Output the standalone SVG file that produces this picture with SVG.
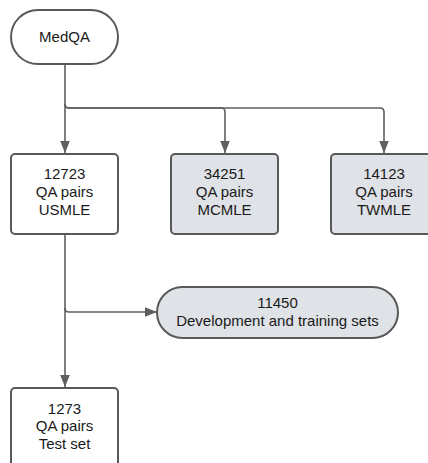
<svg xmlns="http://www.w3.org/2000/svg" width="428" height="463" viewBox="0 0 428 463">
<style>
.node{stroke:#595959;stroke-width:2}
.w{fill:#ffffff}
.g{fill:#dfe2e7}
.edge{fill:none;stroke:#5f5f5f;stroke-width:1.6}
text{font-family:"Liberation Sans",Arial,sans-serif;font-size:15px;fill:#1a1a1a;text-anchor:middle}
</style>
<defs>
<marker id="arr" markerUnits="userSpaceOnUse" markerWidth="12" markerHeight="12" viewBox="0 0 10 10" refX="10" refY="5" orient="auto">
<path d="M0,1 L10,5 L0,9 Z" fill="#5f5f5f"/>
</marker>
</defs>
<rect width="428" height="463" fill="#ffffff"/>
<g id="connectors">
<path class="edge" d="M65,64 V153" marker-end="url(#arr)"/>
<path class="edge" d="M65,104 Q65,108 69,108 H221 Q225,108 225,112 V153" marker-end="url(#arr)"/>
<path class="edge" d="M65,104 Q65,108 69,108 H380 Q384,108 384,112 V153" marker-end="url(#arr)"/>
<path class="edge" d="M65,234 V387" marker-end="url(#arr)"/>
<path class="edge" d="M65,308 Q65,312 69,312 H157" marker-end="url(#arr)"/>
</g>
<g id="medqa">
<rect class="node w" x="11" y="10" width="107" height="54" rx="27"/>
<text x="64.5" y="42">MedQA</text>
</g>
<g id="usmle">
<rect class="node w" x="11" y="154" width="107" height="80" rx="4"/>
<text x="64.5" y="178.5">12723</text>
<text x="64.5" y="196.5">QA pairs</text>
<text x="64.5" y="214.5">USMLE</text>
</g>
<g id="mcmle">
<rect class="node g" x="171" y="154" width="107" height="80" rx="4"/>
<text x="224.5" y="178.5">34251</text>
<text x="224.5" y="196.5">QA pairs</text>
<text x="224.5" y="214.5">MCMLE</text>
</g>
<g id="twmle">
<rect class="node g" x="331" y="154" width="107" height="80" rx="4"/>
<text x="384" y="178.5">14123</text>
<text x="384" y="196.5">QA pairs</text>
<text x="384" y="214.5">TWMLE</text>
</g>
<g id="devtrain">
<rect class="node g" x="157" y="287" width="241" height="51" rx="25.5"/>
<text x="277.5" y="307.5">11450</text>
<text x="277.5" y="325.5">Development and training sets</text>
</g>
<g id="testset">
<rect class="node w" x="11" y="388" width="107" height="90" rx="4"/>
<text x="64.5" y="413.5">1273</text>
<text x="64.5" y="431">QA pairs</text>
<text x="64.5" y="448.5">Test set</text>
</g>
</svg>
